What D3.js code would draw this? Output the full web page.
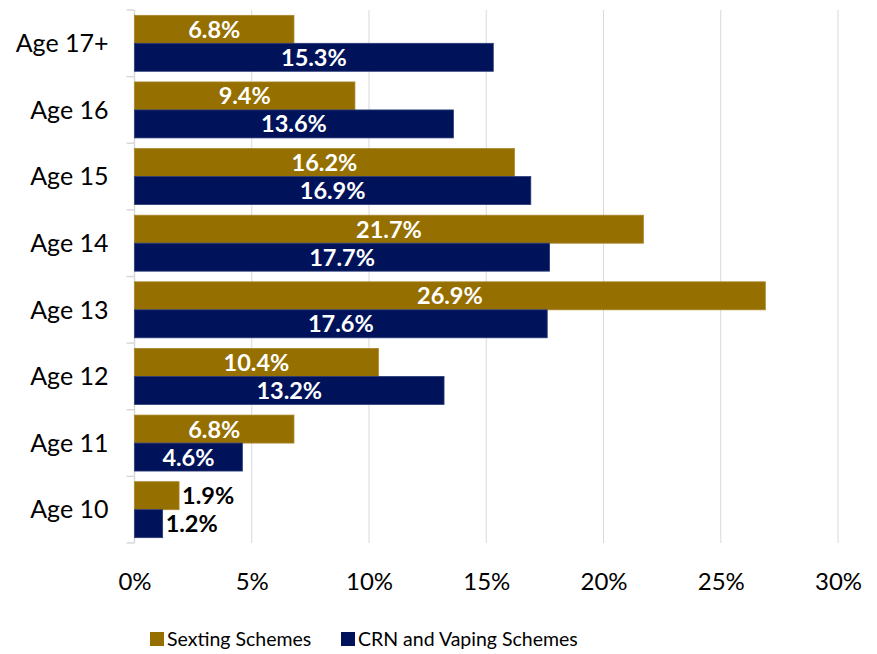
<!DOCTYPE html>
<html>
<head>
<meta charset="utf-8">
<script src="https://cdn.jsdelivr.net/npm/d3@7"></script>
<style>
  html, body { margin: 0; padding: 0; background: #fff; }
  svg { display: block; font-family: Lato, "Open Sans", sans-serif; }
</style>
</head>
<body>
<svg id="chart" width="877" height="654"></svg>
<script>
// Share of schemes by victim age
const ages = ["Age 17+", "Age 16", "Age 15", "Age 14", "Age 13", "Age 12", "Age 11", "Age 10"];
const sexting = [6.8, 9.4, 16.2, 21.7, 26.9, 10.4, 6.8, 1.9];
const crnVaping = [15.3, 13.6, 16.9, 17.7, 17.6, 13.2, 4.6, 1.2];
const seriesNames = ["Sexting Schemes", "CRN and Vaping Schemes"];
const xTicks = [0, 5, 10, 15, 20, 25, 30];

const colors = ["#956f00", "#00135a"];
const series = [sexting, crnVaping];

const svg = d3.select("#chart");
const margin = { left: 134.5, right: 39, top: 10, bottom: 111 };
const W = 877, H = 654;

const x = d3.scaleLinear().domain([0, 30]).range([margin.left, W - margin.right]);
const y = d3.scaleBand().domain(ages).range([margin.top, H - margin.bottom]).paddingInner(0.16).paddingOuter(0.08);
const yOuter = d3.scaleBand().domain(ages).range([margin.top, H - margin.bottom]);
const yInner = d3.scaleBand().domain(seriesNames).range([0, y.bandwidth()]);

// vertical gridlines
svg.append("g")
  .selectAll("line")
  .data(xTicks.filter(t => t > 0))
  .join("line")
  .attr("x1", d => x(d)).attr("x2", d => x(d))
  .attr("y1", margin.top).attr("y2", H - margin.bottom)
  .attr("stroke", "#d9d9d9").attr("stroke-width", 1);

// x tick labels
const xAxis = d3.axisBottom(x).tickValues(xTicks).tickFormat(d => d + "%").tickSize(0).tickPadding(0);
const gx = svg.append("g").attr("transform", `translate(0,${H - margin.bottom})`).call(xAxis);
gx.select(".domain").remove();
gx.selectAll("text")
  .attr("dy", null)
  .attr("y", 47)
  .attr("font-size", 24)
  .attr("fill", "#000")
  .attr("font-family", "Lato, sans-serif");

// y axis: line with outward ticks at category boundaries
const gy = svg.append("g");
gy.append("line")
  .attr("x1", x(0)).attr("x2", x(0))
  .attr("y1", margin.top).attr("y2", H - margin.bottom)
  .attr("stroke", "#d9d9d9").attr("stroke-width", 1.5);
const bounds = ages.map(a => yOuter(a)).concat([yOuter(ages[ages.length - 1]) + yOuter.bandwidth()]);
gy.selectAll("line.tick")
  .data(bounds)
  .join("line")
  .attr("class", "tick")
  .attr("x1", x(0) - 8).attr("x2", x(0))
  .attr("y1", d => d).attr("y2", d => d)
  .attr("stroke", "#d9d9d9").attr("stroke-width", 1.5);
gy.selectAll("text")
  .data(ages)
  .join("text")
  .attr("x", x(0) - 26)
  .attr("y", d => yOuter(d) + yOuter.bandwidth() / 2)
  .attr("dy", "0.35em")
  .attr("text-anchor", "end")
  .attr("font-size", 25)
  .attr("fill", "#000")
  .text(d => d);

// bars and value labels
const groups = svg.append("g")
  .selectAll("g")
  .data(ages)
  .join("g")
  .attr("transform", d => `translate(0,${y(d)})`);

series.forEach((vals, si) => {
  const name = seriesNames[si];
  groups.append("rect")
    .attr("x", x(0))
    .attr("y", yInner(name))
    .attr("width", (d, i) => x(vals[i]) - x(0))
    .attr("height", yInner.bandwidth())
    .attr("fill", colors[si])
    .attr("stroke", si === 0 ? "#a8852a" : "#2a3a78")
    .attr("stroke-width", 0.8);

  groups.append("text")
    .each(function (d, i) {
      const v = vals[i];
      const w = x(v) - x(0);
      const inside = w > 70;
      d3.select(this)
        .attr("x", inside ? x(0) + w / 2 : x(v) + 3)
        .attr("text-anchor", inside ? "middle" : "start")
        .attr("fill", inside ? "#fff" : "#000");
    })
    .attr("y", yInner(name) + yInner.bandwidth() / 2)
    .attr("dy", "0.36em")
    .attr("font-size", 23.5)
    .attr("font-weight", "bold")
    .text((d, i) => vals[i].toFixed(1) + "%");
});

// legend
const legend = svg.append("g").attr("transform", `translate(0,${H - 15})`);
const legendX = [150, 341];
seriesNames.forEach((name, i) => {
  legend.append("rect")
    .attr("x", legendX[i]).attr("y", -7)
    .attr("width", 14).attr("height", 14)
    .attr("fill", colors[i]);
  legend.append("text")
    .attr("x", legendX[i] + 17).attr("y", 0)
    .attr("dy", "0.35em")
    .attr("font-size", 19.5)
    .attr("fill", "#000")
    .text(name);
});
</script>
</body>
</html>
